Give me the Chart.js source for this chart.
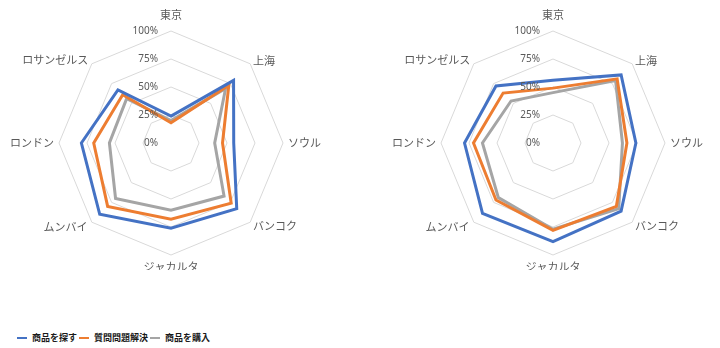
<!DOCTYPE html>
<html>
<head>
<meta charset="utf-8">
<script src="https://cdn.jsdelivr.net/npm/chart.js@4"></script>
<style>
  body { margin: 0; background: #fff; width: 720px; height: 348px; position: relative; overflow: hidden; font-family: "Noto Sans CJK JP", sans-serif; }
  canvas { position: absolute; top: 0; }
  #chart1 { left: 1px; }
  #chart2 { left: 383px; }
  #legend { position: absolute; left: 17px; top: 331px; display: flex; align-items: center; font-size: 9px; font-weight: bold; color: #1a1a1a; white-space: nowrap; }
  #legend .item { display: flex; align-items: center; margin-right: 2px; }
  #legend .mark { width: 10px; height: 2px; margin-right: 5px; }
</style>
</head>
<body>
<canvas id="chart1" width="330" height="270"></canvas>
<canvas id="chart2" width="330" height="270"></canvas>
<div id="legend"></div>
<script>
document.addEventListener("DOMContentLoaded", function () {
  const cities = ["東京", "上海", "ソウル", "バンコク", "ジャカルタ", "ムンバイ", "ロンドン", "ロサンゼルス"];
  const seriesNames = ["商品を探す", "質問問題解決", "商品を購入"];
  const seriesColors = ["#4472C4", "#ED7D31", "#A5A5A5"];
  const tickLabels = ["0%", "25%", "50%", "75%", "100%"];

  // left chart
  const searchLeft = [24, 79, 56, 83, 76, 90, 80, 67];
  const solveLeft = [18, 73, 46, 76, 68, 80, 69, 61];
  const buyLeft = [20, 69, 39, 67, 60, 70, 55, 56];

  // right chart
  const searchRight = [56, 86, 74, 86, 88, 89, 79, 72];
  const solveRight = [49, 81, 66, 80, 78, 72, 71, 63];
  const buyRight = [45, 79, 62, 83, 77, 69, 63, 53];

  // extra gap between label and the outer ring, per city
  const labelPadding = [16, 4, 5, 4, 11, 6, 5, 5];

  // tick labels drawn right-aligned beside the vertical axis, like Excel
  const tickLabelPlugin = {
    id: "tickLabels",
    afterDraw(chart) {
      const scale = chart.scales.r;
      const ctx = chart.ctx;
      ctx.save();
      ctx.font = "10px 'Noto Sans', sans-serif";
      ctx.fillStyle = "#595959";
      ctx.textAlign = "right";
      ctx.textBaseline = "middle";
      scale.ticks.forEach(function (tick, i) {
        const d = scale.getDistanceFromCenterForValue(tick.value);
        ctx.fillText(tickLabels[i], scale.xCenter - 13, scale.yCenter - d);
      });
      ctx.restore();
    },
  };

  function makeDatasets(values) {
    return values.map(function (v, i) {
      return {
        label: seriesNames[i],
        data: v,
        borderColor: seriesColors[i],
        backgroundColor: seriesColors[i],
        borderWidth: 3,
        pointRadius: 0,
        fill: false,
        borderJoinStyle: "miter",
      };
    });
  }

  const chartOptions = {
    responsive: false,
    animation: false,
    layout: { padding: { top: 12, left: 0, right: 0, bottom: 0 } },
    plugins: { legend: { display: false }, tooltip: { enabled: false } },
    scales: {
      r: {
        min: 0,
        max: 100,
        ticks: { stepSize: 25, display: false },
        grid: { color: "#d9d9d9", lineWidth: 1 },
        angleLines: { display: false },
        pointLabels: {
          color: "#595959",
          font: { family: "'Noto Sans CJK JP', sans-serif", size: 11, lineHeight: "1px" },
          padding: function (ctx) {
            return labelPadding[ctx.index];
          },
        },
      },
    },
  };

  const chart1 = new Chart(document.getElementById("chart1").getContext("2d"), {
    type: "radar",
    data: { labels: cities, datasets: makeDatasets([searchLeft, solveLeft, buyLeft]) },
    options: chartOptions,
    plugins: [tickLabelPlugin],
  });

  const chart2 = new Chart(document.getElementById("chart2").getContext("2d"), {
    type: "radar",
    data: { labels: cities, datasets: makeDatasets([searchRight, solveRight, buyRight]) },
    options: chartOptions,
    plugins: [tickLabelPlugin],
  });

  // html legend built from the chart's own legend items
  const legendEl = document.getElementById("legend");
  chart1.options.plugins.legend.labels.generateLabels(chart1).forEach(function (item) {
    const span = document.createElement("span");
    span.className = "item";
    const mark = document.createElement("span");
    mark.className = "mark";
    mark.style.background = item.strokeStyle;
    const text = document.createElement("span");
    text.textContent = item.text;
    span.appendChild(mark);
    span.appendChild(text);
    legendEl.appendChild(span);
  });
});
</script>
</body>
</html>
